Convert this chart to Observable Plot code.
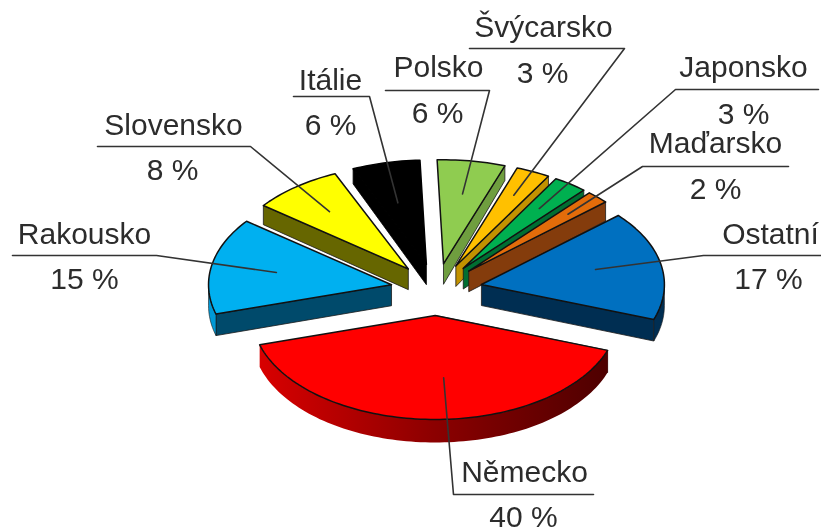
<!DOCTYPE html>
<html lang="cs">
<head>
<meta charset="utf-8">
<title>Podíl zemí</title>
<script src="https://cdn.jsdelivr.net/npm/d3@7"></script>
<script src="https://cdn.jsdelivr.net/npm/@observablehq/plot@0.6"></script>
<style>
html,body{margin:0;padding:0;background:#fff;overflow:hidden}
svg{display:block}
</style>
</head>
<body>
<div id="chart"></div>
<script>
// Data, clockwise from the top of the pie
const countries = ["Polsko","Švýcarsko","Japonsko","Maďarsko","Ostatní","Německo","Rakousko","Slovensko","Itálie"];
const shares    = [6,3,3,2,17,40,15,8,6];

// Styles
const topColors  = ["#8FCC50","#FFC000","#00B050","#E36C0A","#0070C0","#FF0000","#00B0F0","#FFFF00","#000000"];
const wallColors = ["#6F9E3F","#C29200","#006E32","#843C0C","#002E52","#B00000","#004A6B","#666600","#000000"];
const arcColors  = ["#6F9E3F","#C29200","#006E32","#843C0C","#002E52","url(#redWall)","#0099D6","#666600","#000000"];

// Pie geometry in the chart's pixel-like x/y domain
const W = 821, H = 531;
const cx = 436, cy = 289, rx = 183, ry = 104, explode = 0.25, startAngle = -2;
const depth = d3.scaleLinear([160,200,284,400],[14,19,21,23]).clamp(true);

// Label layout, same order as countries
const lineLeft   = [385,469,675,642,703,453,12,97,293];
const lineRight  = [489,624,818,788,820,593,156,250,369];
const lineY      = [90,48,89,166,255,494,255,146,96];
const elbowX     = [489,624,675,642,703,453,156,250,369];
const nameX      = [438,543,743,715,770,524,84,173,330];
const nameY      = [77,37,77,153,244,482,244,135,90];
const pctX       = [437,542,743,715,768,523,84,172,330];
const pctY       = [123,83,124,199,289,527,289,180,135];
const leaderReach= [.68,.75,.71,.77,.64,.6,.64,.7,.61];
const leaderTurn = [0,0,0,0,-2,-6,0,0,-2];

const rad = a => a * Math.PI / 180;
const ex = a => Math.sin(rad(a)) * rx;
const ey = a => -Math.cos(rad(a)) * ry;

let acc = startAngle;
const slices = countries.map((name,i) => {
  const a0 = acc, a1 = acc + shares[i] * 3.6; acc = a1;
  const mid = (a0 + a1) / 2;
  const ax = cx + explode * ex(mid), ay = cy + explode * ey(mid);
  return {name, i, a0, a1, mid, ax, ay};
});
const arcPts = (s, from, to) => {
  const n = Math.max(2, Math.ceil((to - from) / 1.5));
  return d3.range(n + 1).map(k => {
    const a = from + (to - from) * k / n;
    return {x: s.ax + ex(a), y: s.ay + ey(a)};
  });
};
const down = p => ({x: p.x, y: p.y + depth(p.y)});
const close = pts => [...pts, pts[0]];
const poly = (pts, o) => Plot.line(close(pts), {x:"x", y:"y", curve:"linear", strokeLinejoin:"round", ...o});

const pieMarks = [];
const drawSlice = s => {
  const black = s.name === "Itálie";
  // radial wall
  const edge = s.mid < 180 ? s.a1 : s.a0;
  const apex = {x:s.ax, y:s.ay};
  const corner = {x:s.ax + ex(edge), y:s.ay + ey(edge)};
  pieMarks.push(poly([apex, corner, down(corner), down(apex)],
    {fill: wallColors[s.i], stroke: black ? "#000" : "#1a1a1a", strokeWidth:.8}));
  // outer rim wall, front half only
  const f = Math.max(s.a0, 90), t = Math.min(s.a1, 270);
  if (f < t) {
    const rim = arcPts(s, f, t);
    pieMarks.push(poly([...rim, ...rim.map(down).reverse()],
      {fill: arcColors[s.i], stroke: s.name === "Německo" ? "none" : "#1a1a1a", strokeWidth:.6}));
  }
  // top face
  pieMarks.push(poly([apex, ...arcPts(s, s.a0, s.a1)],
    {fill: topColors[s.i], stroke: black ? "#000" : "#111", strokeWidth:1.5}));
};
// back to front
[0,1,2,3,4,8,7,6,5].forEach(i => drawSlice(slices[i]));

const gradient = () => {
  const svgNS = "http://www.w3.org/2000/svg";
  const defs = document.createElementNS(svgNS, "defs");
  const g = document.createElementNS(svgNS, "linearGradient");
  g.setAttribute("id", "redWall");
  [["0%","#D80000"],["50%","#8C0000"],["100%","#4E0000"]].forEach(([o,c]) => {
    const st = document.createElementNS(svgNS, "stop");
    st.setAttribute("offset", o); st.setAttribute("stop-color", c);
    g.appendChild(st);
  });
  defs.appendChild(g);
  return defs;
};

const leaders = slices.flatMap(s => {
  const i = s.i, a = s.mid + leaderTurn[i], r = leaderReach[i];
  const inner = {x: s.ax + r * ex(a), y: s.ay + r * ey(a)};
  const farX = elbowX[i] === lineLeft[i] ? lineRight[i] : lineLeft[i];
  return [
    {id:i, x:farX, y:lineY[i]},
    {id:i, x:elbowX[i], y:lineY[i]},
    {id:i, x:inner.x, y:inner.y}
  ];
});

const chart = Plot.plot({
  width: W, height: H,
  margin: 0,
  x: {domain:[0,W], range:[0,W], axis:null},
  y: {domain:[0,H], range:[0,H], axis:null},
  style: {background:"#fff", filter:"blur(0.45px)"},
  marks: [
    gradient,
    ...pieMarks,
    Plot.line(leaders, {x:"x", y:"y", z:"id", stroke:"#333", strokeWidth:1.6, curve:"linear"}),
    Plot.text(slices, {x:d => nameX[d.i], y:d => nameY[d.i], text:"name", fontSize:30, fontFamily:"Liberation Sans", fill:"#2c2c2c", textAnchor:"middle", lineAnchor:"bottom", dy:-1}),
    Plot.text(slices, {x:d => pctX[d.i], y:d => pctY[d.i], text:d => shares[d.i] + " %", fontSize:30, fontFamily:"Liberation Sans", fill:"#2c2c2c", textAnchor:"middle", lineAnchor:"bottom", dy:-1})
  ]
});
document.getElementById("chart").appendChild(chart);
</script>
</body>
</html>
